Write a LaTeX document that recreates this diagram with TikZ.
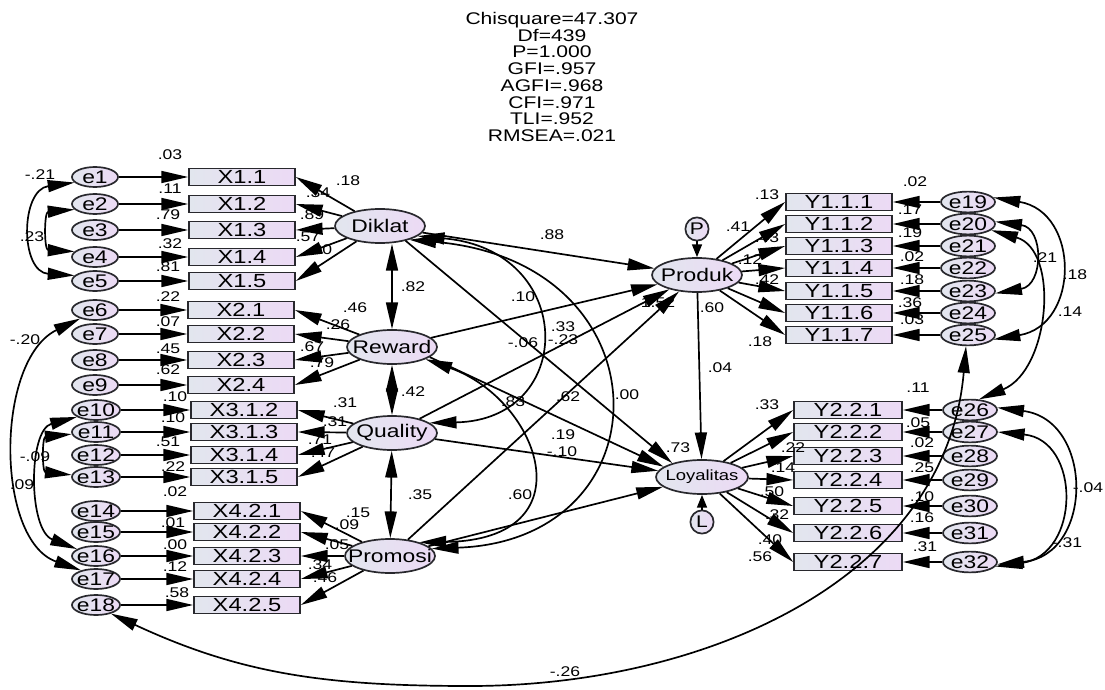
\documentclass[tikz,border=0pt]{standalone}
\usepackage{fontspec}
\setmainfont{Liberation Sans}[FakeStretch=1.25]
\usetikzlibrary{arrows.meta,shapes.geometric,positioning}
\definecolor{fillL}{RGB}{226,230,238}
\definecolor{fillR}{RGB}{236,218,245}
\definecolor{edge}{RGB}{40,40,45}

\begin{document}
\begin{tikzpicture}[x=0.025cm,y=-0.025cm,
  every node/.style={inner sep=0pt},
  obsbox/.style={draw=edge,line width=1.2pt,left color=fillL,right color=fillR,
    minimum width=2.65cm,minimum height=0.43cm,font=\fontsize{13.5}{13.5}\selectfont},
  errnode/.style={ellipse,draw=edge,line width=1.2pt,left color=fillL,right color=fillR,
    minimum width=1.15cm,minimum height=0.5cm,inner xsep=-10pt,inner ysep=-4pt,
    font=\fontsize{13}{13}\selectfont},
  latnode/.style={ellipse,draw=edge,line width=1.2pt,left color=fillL,right color=fillR,
    minimum width=2.25cm,minimum height=0.85cm,inner xsep=-12pt,inner ysep=-4pt,
    font=\fontsize{13}{13}\selectfont},
  resnode/.style={circle,draw=edge,line width=1.2pt,left color=fillL,right color=fillR,
    minimum size=0.58cm,font=\fontsize{12}{12}\selectfont},
  val/.style={font=\fontsize{10}{10}\selectfont},
  arr/.style={line width=1.2pt,-{Triangle[length=19pt,width=8.5pt]}},
  shortarr/.style={line width=1.2pt,-{Triangle[length=9pt,width=7pt]}},
  both/.style={line width=1.2pt,{Triangle[length=19pt,width=8.5pt]}-{Triangle[length=19pt,width=8.5pt]}}
]
\path[use as bounding box,fill=white] (0,0) rectangle (1105,690);

% fit indices
\node[font=\fontsize{12}{11.9}\selectfont,align=center] (fit) at (552,77)
  {Chisquare=47.307\\Df=439\\P=1.000\\GFI=.957\\AGFI=.968\\CFI=.971\\TLI=.952\\RMSEA=.021};

% the latent variables
\node[latnode] (Diklat) at (380,226) {Diklat};
\node[latnode] (Reward) at (392,347) {Reward};
\node[latnode] (Quality) at (392,433) {Quality};
\node[latnode] (Promosi) at (390,556) {Promosi};
\node[latnode] (Produk) at (697,275) {Produk};
\node[latnode,minimum width=2.3cm,font=\fontsize{10.5}{10.5}\selectfont] (Loyalitas) at (702,477) {Loyalitas};
\node[resnode] (P) at (697,229) {P};
\node[resnode] (L) at (702,522) {L};

% the errors and indicators on the left
\foreach \n/\y in {1/177,2/204,3/230,4/257,5/281,6/310,7/334,8/360,9/385}
  \node[errnode] (e\n) at (95,\y) {e\n};
\foreach \n/\y in {10/410,11/432,12/455,13/477,14/511,15/532,16/556,17/579,18/605}
  \node[errnode,minimum width=1.2cm] (e\n) at (96,\y) {e\n};

\foreach \n/\t/\x/\y in {X11/X1.1/242/177,X12/X1.2/242/204,X13/X1.3/242/230,X14/X1.4/242/257,
    X15/X1.5/242/281,X21/X2.1/241/310,X22/X2.2/241/334,X23/X2.3/241/360,X24/X2.4/241/385,
    X312/X3.1.2/244/410,X313/X3.1.3/244/432,X314/X3.1.4/244/455,X315/X3.1.5/244/477,
    X421/X4.2.1/247/511,X422/X4.2.2/247/532,X423/X4.2.3/247/556,X424/X4.2.4/247/579,X425/X4.2.5/247/605}
  \node[obsbox] (\n) at (\x,\y) {\t};

% the errors and indicators on the right
\foreach \n/\t/\y [count=\k from 19] in {Y111/Y1.1.1/202,Y112/Y1.1.2/224,Y113/Y1.1.3/246,
    Y114/Y1.1.4/268,Y115/Y1.1.5/291,Y116/Y1.1.6/313,Y117/Y1.1.7/335}
{
  \node[obsbox] (\n) at (839,\y) {\t};
  \node[errnode,minimum width=1.35cm,minimum height=0.52cm] (e\k) at (968,\y) {e\k};
  \draw[arr] (e\k) -- (\n);
  \draw[arr] (Produk) -- (\n.west);
}
\foreach \n/\t/\y [count=\k from 26] in {Y221/Y2.2.1/410,Y222/Y2.2.2/432,Y223/Y2.2.3/456,
    Y224/Y2.2.4/480,Y225/Y2.2.5/506,Y226/Y2.2.6/533,Y227/Y2.2.7/562}
{
  \node[obsbox,minimum width=2.7cm] (\n) at (848,\y) {\t};
  \node[errnode,minimum width=1.35cm,minimum height=0.52cm] (e\k) at (970,\y) {e\k};
  \draw[arr] (e\k) -- (\n);
  \draw[arr] (Loyalitas) -- (\n.west);
}

% the edges on the left
\foreach \n/\b in {1/X11,2/X12,3/X13,4/X14,5/X15,6/X21,7/X22,8/X23,9/X24,10/X312,11/X313,
    12/X314,13/X315,14/X421,15/X422,16/X423,17/X424,18/X425}
  \draw[arr] (e\n) -- (\b);
\foreach \b in {X11,X12,X13,X14,X15}
  \draw[arr] (Diklat) -- (\b.east);
\foreach \b in {X21,X22,X23,X24}
  \draw[arr] (Reward) -- (\b.east);
\foreach \b in {X312,X313,X314,X315}
  \draw[arr] (Quality) -- (\b.east);
\foreach \b in {X421,X422,X423,X424,X425}
  \draw[arr] (Promosi) -- (\b.east);

% structural paths
\draw[arr] (Diklat) -- (Produk);
\draw[arr] (Reward) -- (Produk);
\draw[arr] (Quality) -- (Produk);
\draw[arr] (Promosi) -- (Produk);
\draw[arr] (Diklat.-30) -- (Loyalitas.155);
\draw[arr] (Reward.-15) -- (Loyalitas.165);
\draw[arr] (Quality) -- (Loyalitas);
\draw[arr] (Promosi) -- (Loyalitas);
\draw[arr] (Produk) -- (Loyalitas);
\draw[shortarr] (P) -- (Produk);
\draw[shortarr] (L) -- (Loyalitas);

% covariances
\draw[both] (Reward.north |- Diklat.south) -- (Reward.north);
\draw[both] (Reward) -- (Quality);
\draw[both] (Quality) -- (Promosi);
\draw[both] (Diklat.-15) .. controls (577,250) and (577,420) .. (Quality.15);
\draw[both] (Diklat.-25) .. controls (669,262) and (669,540) .. (Promosi.10);
\draw[both] (Reward.-20) .. controls (540,400) and (590,540) .. (Promosi.25);

\draw[both] (e1.195) .. controls (20,190) and (20,272) .. (e5.165);
\draw[both] (e2.195) .. controls (44,212) and (44,250) .. (e4.165);
\draw[both] (e6.210) .. controls (-5,360) and (-5,540) .. (e17.150);
\draw[both] (e10.200) .. controls (28,430) and (28,530) .. (e16.160);
\draw[both] (e11.185) .. controls (42,437) and (42,472) .. (e13.175);

\draw[both] (e19.10) .. controls (1080,212) and (1080,325) .. (e25.-10);
\draw[both] (e20.5) .. controls (1044,228) and (1044,285) .. (e23.-5);
\draw[both] (e20.-15) .. controls (1060,250) and (1050,370) .. (e26.50);
\draw[both] (e26.5) .. controls (1094,420) and (1094,555) .. (e32.-5);
\draw[both] (e27.0) .. controls (1081,440) and (1081,555) .. (e32.-10);

\coordinate (low) at (470,686);
\draw[both] (e18.-30) to[out=-25,in=180] (low) to[out=0,in=-95] (e25.-100);

% estimates
\foreach \x/\y/\t [count=\k] in {
  170/155/.03,170/189/.11,168/215/.79,170/244/.32,168/267/.81,168/297/.22,168/322/.07,
  168/349/.45,168/370/.62,175/397/.10,173/418/.10,168/442/.51,173/467/.22,175/492/.02,
  173/523/.01,175/545/.00,175/567/.12,177/593/.58,
  348/181/.18,318/193/.34,312/215/.89,308/237/.57,320/250/.90,
  355/308/.46,338/325/.26,312/347/.67,322/363/.79,
  345/403/.31,335/422/.31,320/440/.71,323/453/.47,
  358/513/.15,347/525/.09,337/545/.05,320/565/.34,325/578/.46,
  413/287/.82,413/392/.42,420/495/.35,
  552/235/.88,523/297/.10,563/327/.33,523/343/-.06,563/340/-.23,513/402/.83,568/397/.62,
  627/395/.00,563/435/.19,562/452/-.10,520/495/.60,
  658/303/1.52,712/308/.60,720/368/.04,678/448/.73,
  767/195/.13,738/227/.41,767/238/.43,750/260/.12,767/280/.42,760/342/.18,
  915/182/.02,910/210/.17,910/233/.19,912/257/.02,912/280/.18,910/303/.36,912/320/.03,
  1045/258/.21,1075/275/.18,1070/312/.14,
  767/405/.33,793/448/.22,783/468/.14,772/492/.50,777/515/.32,770/540/.40,760/557/.56,
  918/388/.11,918/423/.05,922/443/.02,922/468/.25,922/497/.10,922/518/.16,925/547/.31,
  1088/488/-.04,1067/543/-.31,
  40/175/-.21,32/237/.23,25/340/-.20,35/457/-.09,22/485/.09,
  565/672/-.26}
  \node[val] (v\k) at (\x,\y) {\t};

\end{tikzpicture}
\end{document}
